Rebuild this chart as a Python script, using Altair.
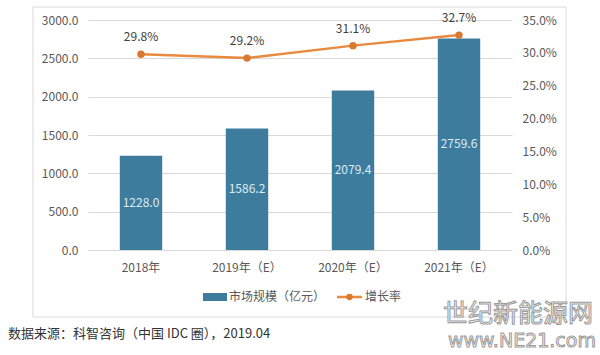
import altair as alt
import pandas as pd

categories = ["2018年", "2019年（E）", "2020年（E）", "2021年（E）"]
market = [1228.0, 1586.2, 2079.4, 2759.6]
growth = [0.298, 0.292, 0.311, 0.327]
series_names = ["市场规模（亿元）", "增长率"]
source_text = "数据来源：科智咨询（中国 IDC 圈），2019.04"

BLUE = "#3e7c9e"
ORANGE = "#e98a3f"
FONT = "Noto Sans CJK SC"
GRAY = "#595959"

df = pd.DataFrame({"cat": categories, "market": market, "growth": growth})
df["mid"] = df["market"] / 2

x = alt.X("cat:N", sort=categories, title=None,
          scale=alt.Scale(paddingInner=0.6, paddingOuter=0.3),
          axis=alt.Axis(labelAngle=0, ticks=False, domain=False, labelPadding=12,
                        labelFontSize=12, labelColor=GRAY, labelFont=FONT))

left_axis = alt.Axis(values=[0, 500, 1000, 1500, 2000, 2500, 3000], format=".1f",
                     ticks=False, domain=False, labelPadding=10, gridColor="#d9d9d9",
                     labelFontSize=12, labelColor=GRAY, labelFont=FONT, title=None)
right_axis = alt.Axis(orient="right", values=[0, 0.05, 0.1, 0.15, 0.2, 0.25, 0.3, 0.35],
                      format=".1%", ticks=False, domain=False, grid=False, labelPadding=10,
                      labelFontSize=12, labelColor=GRAY, labelFont=FONT, title=None)
left_scale = alt.Scale(domain=[0, 3000])
right_scale = alt.Scale(domain=[0, 0.35])

base = alt.Chart(df)

bars = base.mark_bar(color=BLUE).encode(
    x=x, y=alt.Y("market:Q", scale=left_scale, axis=left_axis, title=None))
bar_labels = base.mark_text(color="#dcecf7", fontSize=12, font=FONT).encode(
    x=x, y=alt.Y("mid:Q", scale=left_scale, axis=left_axis, title=None),
    text=alt.Text("market:Q", format=".1f"))

left_layer = alt.layer(bars, bar_labels)

yr = alt.Y("growth:Q", scale=right_scale, axis=right_axis, title=None)
line = base.mark_line(color=ORANGE, strokeWidth=2.5).encode(x=x, y=yr)
pts = base.mark_point(color="#d9782f", filled=True, size=55, opacity=1).encode(x=x, y=yr)
line_labels = base.mark_text(color="#404040", fontSize=12, font=FONT, dy=-17).encode(
    x=x, y=yr, text=alt.Text("growth:Q", format=".1%"))

right_layer = alt.layer(line, pts, line_labels)

one = pd.DataFrame({"a": [0]})
ob = alt.Chart(one)

frame = ob.mark_rect(fill=None, stroke="#d9d9d9", strokeWidth=1).encode(
    x=alt.value(-55), x2=alt.value(478), y=alt.value(-13), y2=alt.value(297))

leg_bar = ob.mark_rect(color=BLUE).encode(
    x=alt.value(115), x2=alt.value(139), y=alt.value(273), y2=alt.value(281))
leg_bar_text = ob.mark_text(align="left", baseline="middle", fontSize=12, font=FONT,
                            color=GRAY, text=series_names[0]).encode(
    x=alt.value(141), y=alt.value(277))
leg_line = ob.mark_rule(color=ORANGE, strokeWidth=2.5).encode(
    x=alt.value(249), x2=alt.value(274), y=alt.value(277))
leg_pt = ob.mark_point(color="#d9782f", filled=True, size=40, opacity=1).encode(
    x=alt.value(261.5), y=alt.value(277))
leg_line_text = ob.mark_text(align="left", baseline="middle", fontSize=12, font=FONT,
                             color=GRAY, text=series_names[1]).encode(
    x=alt.value(277), y=alt.value(277))

src = ob.mark_text(align="left", baseline="middle", fontSize=13, font=FONT,
                   color="#333333", text=source_text).encode(
    x=alt.value(-80), y=alt.value(314))

wm1 = ob.mark_text(align="left", baseline="middle", fontSize=25, font=FONT,
                   fill="#ffffff", stroke="#9a9a9a", strokeWidth=1, text="世纪新能源网").encode(
    x=alt.value(355), y=alt.value(294))
wm2 = ob.mark_text(align="left", baseline="middle", fontSize=19, font="DejaVu Sans",
                   fill="#ffffff", stroke="#9a9a9a", strokeWidth=1, text="www.NE21.com").encode(
    x=alt.value(360), y=alt.value(321))

main = alt.layer(left_layer, right_layer).resolve_scale(y="independent")

chart = alt.layer(
    frame, main,
    leg_bar, leg_bar_text, leg_line, leg_pt, leg_line_text, src, wm1, wm2
).properties(
    width=424, height=230,
    autosize=alt.AutoSizeParams(type="none"),
    padding={"left": 88, "top": 20, "right": 88, "bottom": 105},
    background="white"
).configure_view(stroke=None)

chart.save("out.html", embed_options={"renderer": "svg", "actions": False})
